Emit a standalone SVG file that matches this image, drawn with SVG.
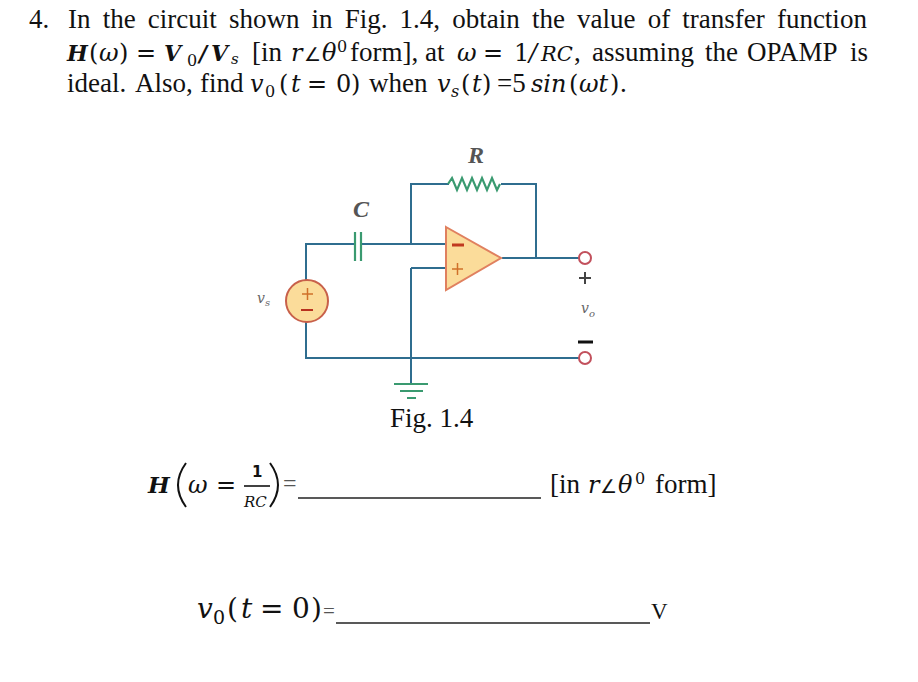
<svg xmlns="http://www.w3.org/2000/svg" width="918" height="682" viewBox="0 0 918 682">
<style>
text{font-family:"Liberation Serif","Times New Roman",serif;fill:#111;font-size:27px}
.mi{font-family:"DejaVu Serif","Liberation Serif",serif;font-style:italic;font-size:24px}
.mr{font-family:"DejaVu Serif","Liberation Serif",serif;font-size:24px}
.mb{font-family:"DejaVu Serif","Liberation Serif",serif;font-style:italic;font-weight:bold;font-size:22px}
.sub{font-family:"DejaVu Serif","Liberation Serif",serif;font-size:16px}
.subi{font-family:"DejaVu Serif","Liberation Serif",serif;font-style:italic;font-size:16px}
.ang{font-family:"DejaVu Sans",sans-serif;font-size:19px}
.big{font-family:"DejaVu Serif","Liberation Serif",serif;font-size:28px}
.bigi{font-family:"DejaVu Serif","Liberation Serif",serif;font-style:italic;font-size:28px}
.w{fill:none;stroke:#2f6d8f;stroke-width:2}
.g{fill:none;stroke:#3a9a70;stroke-width:2.2}
.term{fill:#fff;stroke:#c2505c;stroke-width:2}
.lab{font-family:"Liberation Serif",serif;font-style:italic;font-weight:bold;fill:#555;font-size:24px}
.lab2{font-family:"DejaVu Serif",serif;font-style:italic;fill:#666;font-size:14px}
.lab3{font-family:"DejaVu Serif",serif;font-style:italic;fill:#666;font-size:10px}
.rule{stroke:#222;stroke-width:1.3}
</style>
<g id="question">
<text x="29" y="28">4.</text>
<text x="68" y="28" word-spacing="5.4">In the circuit shown in Fig. 1.4, obtain the value of transfer function</text>
<text class="mb" x="67" y="61">H</text><text class="mr" x="89" y="61">(</text><text class="mi" x="99" y="61">ω</text><text class="mr" x="119" y="61">)</text><text class="mr" x="136" y="61">=</text>
<text class="mb" x="164" y="61">V</text><text class="sub" x="187" y="66">0</text><text class="mb" x="199" y="61">/</text><text class="mb" x="211" y="61">V</text><text class="subi" x="231" y="64" style="font-size:15px">s</text>
<text x="252" y="61">[in</text><text class="mi" x="291" y="61">r</text><text class="ang" x="304" y="61">∠</text><text class="mi" x="322" y="61">θ</text><text class="sub" x="337" y="52">0</text>
<text x="350" y="61">form], at</text><text class="mi" x="457" y="61">ω</text><text class="mr" x="483" y="61">=</text><text class="mr" x="514" y="61">1</text><text class="mi" x="529" y="61">/</text><text class="mi" x="541" y="61" style="font-size:21px">RC</text><text x="574" y="61">,</text>
<text x="592" y="61">assuming</text><text x="705" y="61">the</text><text x="747" y="61">OPAMP</text><text x="850" y="61">is</text>
<text x="67" y="92">ideal.</text><text x="135" y="92">Also,</text><text x="200" y="92">find</text>
<text class="mi" x="250" y="92">v</text><text class="sub" x="265" y="97">0</text><text class="mr" x="279" y="92">(</text><text class="mi" x="291" y="92">t</text><text class="mr" x="307" y="92">=</text><text class="mr" x="336" y="92">0</text><text class="mr" x="351" y="92">)</text>
<text x="369" y="92">when</text><text class="mi" x="437" y="92">v</text><text class="subi" x="451" y="97">s</text><text class="mr" x="461" y="92">(</text><text class="mi" x="472" y="92">t</text><text class="mr" x="482" y="92">)</text>
<text x="497" y="92">=5</text><text class="mi" x="531" y="92">sin</text><text class="mr" x="569" y="92">(</text><text class="mi" x="579" y="92">ωt</text><text class="mr" x="610" y="92">)</text><text x="620" y="92">.</text>
</g>
<g id="connectors">
<path class="w" d="M306 280V244H354M362 244H446M411 244V184H449M501 184H536V258M502 258H579M411 268H446M411 268V384M306 322V358H579"/>
</g>
<g id="resistor"><path class="g" d="M448 184l4 -6 5 12 5 -12 5 12 5 -12 5 12 5 -12 5 12 5 -12 5 12 3 -6"/><text class="lab" x="468" y="163">R</text></g>
<g id="capacitor"><path class="g" d="M355 232V261M361 232V261"/><text class="lab" x="353" y="217">C</text></g>
<g id="opamp">
<path d="M446 227L501 258L446 290Z" fill="#fbdc9a" stroke="#e0805f" stroke-width="2"/>
<path d="M452 245H464" stroke="#c0391f" stroke-width="3"/>
<path d="M452 269H463M457.500 263V275" stroke="#d0702a" stroke-width="1.5"/>
</g>
<g id="source">
<circle cx="307" cy="301" r="21" fill="#fbdc9a" stroke="#c8604a" stroke-width="2"/>
<path d="M302 294H313M307.500 288V300" stroke="#d0702a" stroke-width="1.5"/>
<path d="M301 310H313" stroke="#b8321f" stroke-width="2"/>
<text class="lab2" x="257" y="303">v</text><text class="lab3" x="265" y="306">s</text>
</g>
<g id="ground"><path class="g" d="M394 384H428M400 391H423M407 398H416"/></g>
<g id="output">
<circle class="term" cx="585" cy="258" r="6"/>
<circle class="term" cx="585" cy="358" r="6"/>
<path d="M579 278H591M585 272V284" stroke="#444" stroke-width="2"/>
<path d="M578 342H593" stroke="#111" stroke-width="3"/>
<text class="lab2" x="581" y="313">v</text><text class="lab3" x="589" y="317">o</text>
</g>
<text x="390" y="427">Fig. 1.4</text>
<g id="answer-h">
<text class="mb" x="148" y="493" style="font-size:23px">H</text>
<path d="M186 463Q170 485 186 507" fill="none" stroke="#111" stroke-width="2"/>
<text class="mi" x="188" y="493">ω</text>
<text class="mr" x="216" y="493">=</text>
<path d="M244 486H270" stroke="#111" stroke-width="1.6"/>
<text x="252" y="477" style="font-family:'DejaVu Sans',sans-serif;font-size:15px;font-weight:bold">1</text>
<text class="subi" x="244" y="507" style="font-size:15px">RC</text>
<path d="M270 463Q286 485 270 507" fill="none" stroke="#111" stroke-width="2"/>
<text x="283" y="491" style="font-size:24px;fill:#555">=</text>
<path class="rule" d="M298 498H541"/>
<text x="550" y="493">[in</text><text class="mi" x="588" y="493">r</text><text class="ang" x="600" y="493">∠</text><text class="mi" x="618" y="493">θ</text><text class="sub" x="635" y="484">0</text><text x="655" y="493">form]</text>
</g>
<g id="answer-v">
<text class="bigi" x="197" y="618">v</text><text class="sub" x="213" y="624" style="font-size:19px">0</text><text class="big" x="227" y="618">(</text><text class="bigi" x="241" y="618">t</text><text class="big" x="260" y="618">=</text><text class="big" x="292" y="618">0</text><text class="big" x="311" y="618">)</text>
<text x="323" y="618" style="font-size:21px;fill:#555">=</text>
<path class="rule" d="M336 623H650"/>
<text x="651" y="619" style="font-size:23px">V</text>
</g>
</svg>
